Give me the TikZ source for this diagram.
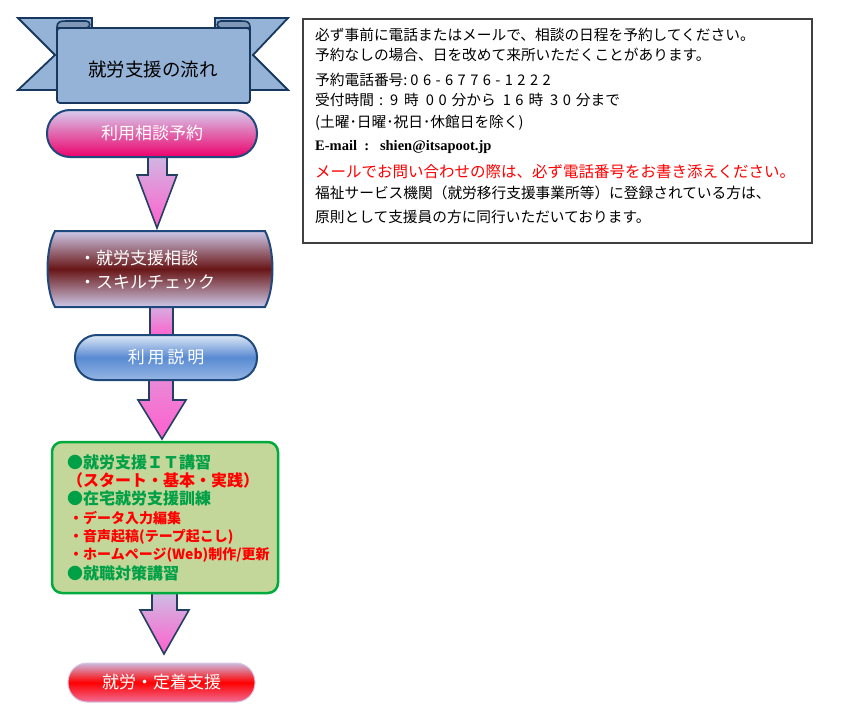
\documentclass[tikz,border=0pt]{standalone}
\usepackage{fontspec}
\newfontfamily\jp{Noto Sans CJK JP}
\newfontfamily\jpdg{Noto Sans CJK JP}[LetterSpace=30]
\newfontfamily\tms{Liberation Serif}
\definecolor{pillborder}{RGB}{31,73,125}
\definecolor{arrowborder}{RGB}{36,63,100}
\definecolor{bannerfill}{RGB}{149,179,215}
\definecolor{bannerline}{RGB}{23,55,94}
\definecolor{lav}{RGB}{215,205,238}
\definecolor{hotpink}{RGB}{236,0,108}
\definecolor{maroonmid}{RGB}{105,22,22}
\definecolor{barreledge}{RGB}{205,200,232}
\definecolor{bluemid}{RGB}{88,138,210}
\definecolor{bluetop}{RGB}{222,232,246}
\definecolor{bluebot}{RGB}{150,182,228}
\definecolor{greenfill}{RGB}{196,215,155}
\definecolor{greenline}{RGB}{0,170,60}
\definecolor{greentext}{RGB}{0,160,70}
\definecolor{arrowtop}{RGB}{205,190,228}
\definecolor{arrowbot}{RGB}{255,95,205}
\definecolor{redtop}{RGB}{205,185,222}
\definecolor{redbot}{RGB}{240,110,150}
\definecolor{boxline}{RGB}{64,64,64}
\newcommand\dg[1]{{\jpdg #1}}
\begin{document}
\begin{tikzpicture}[x=1pt,y=-1pt,
  pill/.style={draw=pillborder, line width=2pt, inner sep=0pt, text=white,
    font=\jp\fontsize{17pt}{20pt}\selectfont},
  barrowshape/.style={draw=arrowborder, line width=1.6pt, line join=miter,
    top color=arrowtop, bottom color=arrowbot},
  boxtext/.style={anchor=west, inner sep=0pt, font=\jp\fontsize{14.7pt}{17pt}\selectfont},
  greentxt/.style={anchor=west, inner sep=0pt, text=greentext,
    font=\jp\bfseries\fontsize{16pt}{18pt}\selectfont},
  redsmall/.style={anchor=west, inner sep=0pt, text=red,
    font=\jp\bfseries\fontsize{14pt}{16pt}\selectfont}]
\useasboundingbox (0,0) rectangle (854,717);

% ---------- block arrows (drawn first, boxes cover their ends)
\shade[barrowshape] (148,150) -- (167,150) -- (167,175) -- (177,175) -- (157,228)
   -- (137,175) -- (148,175) -- cycle;
\shade[barrowshape] (150,300) rectangle (173,337);
\shade[barrowshape, top color=arrowtop!50!arrowbot] (149,372) -- (173,372) -- (173,400) -- (186,400) -- (162,439)
   -- (138,400) -- (149,400) -- cycle;
\shade[barrowshape] (152,592) -- (177,592) -- (177,610) -- (189,610) -- (164,654)
   -- (140,610) -- (152,610) -- cycle;

% ---------- banner
\filldraw[fill=bannerfill, draw=bannerline, line width=1.8pt, line join=miter]
  (18,18) -- (92,18) -- (92,90) -- (18,90) -- (55,55) -- cycle;
\filldraw[fill=bannerfill, draw=bannerline, line width=1.8pt, line join=miter]
  (288,18) -- (215,18) -- (215,90) -- (288,90) -- (253,55) -- cycle;
\filldraw[fill=bannerfill!85!black, draw=bannerline, line width=1.6pt]
  (57,32) -- (57,27) .. controls (57,22) and (60,21) .. (66,21) -- (86,21)
  .. controls (91,21) and (91,28) .. (86,28) -- (57,28);
\filldraw[fill=bannerfill!85!black, draw=bannerline, line width=1.6pt]
  (250,32) -- (250,27) .. controls (250,22) and (247,21) .. (241,21) -- (221,21)
  .. controls (216,21) and (216,28) .. (221,28) -- (250,28);
\filldraw[fill=bannerfill, draw=bannerline, line width=1.8pt, rounded corners=3pt]
  (57,28) -- (250,28) -- (250,103) -- (57,103) -- cycle;
\node[inner sep=0pt, font=\jp\fontsize{18.5pt}{20pt}\selectfont] (banner) at (153,69) {就労支援の流れ};

% ---------- pink pill
\node[pill, minimum width=210pt, minimum height=47pt, rounded corners=23pt,
  top color=lav, bottom color=hotpink] (p1) at (152,133.5) {利用相談予約};

% ---------- maroon barrel
\shade[draw=pillborder, line width=2pt, top color=barreledge, bottom color=barreledge,
  middle color=maroonmid]
  (55,231) -- (265,231) .. controls (275,250) and (275,288) .. (265,307)
  -- (55,307) .. controls (45,288) and (45,250) .. (55,231) -- cycle;
\node[inner sep=0pt] (m) at (160,269) {};
\node[anchor=west, inner sep=0pt, text=white, font=\jp\fontsize{17pt}{20pt}\selectfont]
  (m1) at (79,258) {・就労支援相談};
\node[anchor=west, inner sep=0pt, text=white, font=\jp\fontsize{17pt}{20pt}\selectfont]
  (m2) at (79,282) {・スキルチェック};

% ---------- blue pill
\node[pill, minimum width=182pt, minimum height=45pt, rounded corners=22pt,
  top color=bluetop, bottom color=bluebot, middle color=bluemid] (p2) at (166,357.5)
  {利\,用\,説\,明};

% ---------- green box
\node[draw=greenline, fill=greenfill, line width=2.5pt, rounded corners=10pt,
  minimum width=226pt, minimum height=151pt, inner sep=0pt] (g) at (165,517.5) {};
\node[greentxt] (g1) at (67,462) {●就労支援ＩＴ講習};
\node[greentxt, text=red] (g2) at (67,480) {（スタート・基本・実践）};
\node[greentxt] (g3) at (67,498) {●在宅就労支援訓練};
\node[redsmall] (g4) at (69,518) {・データ入力編集};
\node[redsmall] (g5) at (69,537) {・音声起稿(テープ起こし)};
\node[redsmall] (g6) at (69,555) {・ホームページ(Web)制作/更新};
\node[greentxt] (g7) at (67,573) {●就職対策講習};

% ---------- red pill
\node[pill, draw=redtop!80!white, line width=1pt, minimum width=187pt, minimum height=39pt,
  rounded corners=19pt, top color=redtop, bottom color=redbot, middle color=red]
  (p3) at (161.5,682.5) {就労・定着支援};

% ---------- info box
\draw[boxline, line width=1.1pt] (303,19) rectangle (812,243);
\node[boxtext] (t1) at (315,35) {必ず事前に電話またはメールで、相談の日程を予約してください。};
\node[boxtext] (t2) at (315,55) {予約なしの場合、日を改めて来所いただくことがあります。};
\node[boxtext] (t3) at (315,80) {予約電話番号:\hspace{3pt}\dg{06-6776-1222}};
\node[boxtext] (t4) at (315,100) {受付時間\hspace{5pt}:\hspace{7pt}\dg{9}\hspace{6pt}時\hspace{7pt}\dg{00}\hspace{5pt}分から\hspace{7pt}\dg{16}\hspace{5pt}時\hspace{7pt}\dg{30}\hspace{5pt}分まで};
\node[boxtext] (t5) at (315,123) {(土曜･日曜･祝日･休館日を除く)};
\node[anchor=west, inner sep=0pt, font=\tms\bfseries\fontsize{14.5pt}{17pt}\selectfont]
  (t6) at (315,147) {E-mail\ \ :\ \ \ shien@itsapoot.jp};
\node[boxtext, text=red, font=\jp\fontsize{15.5pt}{17pt}\selectfont] (t7) at (315,172)
  {メールでお問い合わせの際は、必ず電話番号をお書き添えください。};
\node[boxtext] (t8) at (315,193) {福祉サービス機関（就労移行支援事業所等）に登録されている方は、};
\node[boxtext] (t9) at (315,217) {原則として支援員の方に同行いただいております。};
\end{tikzpicture}
\end{document}
